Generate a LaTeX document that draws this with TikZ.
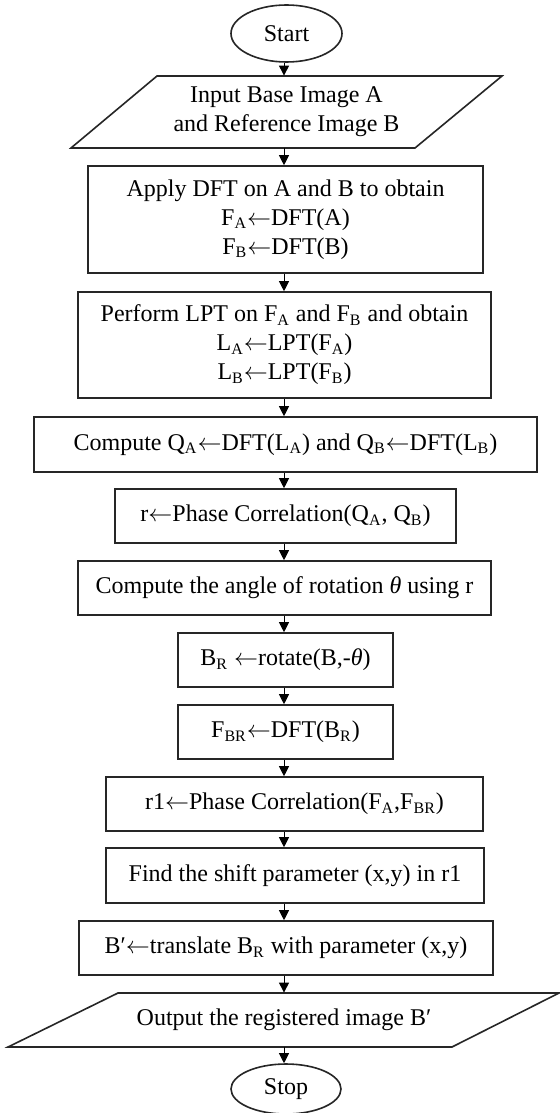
\documentclass[tikz,border=0pt]{standalone}
\usepackage{fontspec}
\setmainfont{Liberation Serif}
\usetikzlibrary{arrows.meta,shapes.geometric}
\newcommand{\sbs}[1]{\textsubscript{#1}}
\newcommand{\larr}{\ensuremath{\leftarrow}}
\begin{document}
\begin{tikzpicture}[x=0.5pt,y=-0.5pt,
  lbl/.style={align=center,inner sep=0pt,font=\fontsize{12}{14.5}\selectfont},
  box/.style={lbl,draw=black!85,line width=0.8pt,fill=white},
  term/.style={lbl,ellipse,draw=black!85,line width=0.8pt,fill=white},
  io/.style={draw=black!85,line width=0.8pt,fill=white,line join=miter},
  flow/.style={draw=black,line width=0.5pt,-{Triangle[length=5pt,width=5pt]}}]

% page
\fill[white] (0,0) rectangle (560,1113);
\useasboundingbox (0,0) rectangle (560,1113);

% common vertical axis of the connectors
\coordinate (axis) at (284,0);

% terminals, steps and input/output
\node[term,minimum width=55.5pt,minimum height=28.5pt] (start) at (286.5,33.5) {Start};

\draw[io] (157,76) -- (502,76) -- (415,148) -- (71,148) -- cycle;
\node[lbl,minimum height=36pt] (inp) at (286.5,112) {Input Base Image A\\and Reference Image B};

\node[box,minimum width=197.5pt,minimum height=53.5pt] (dft) at (285.5,219.5)
  {Apply DFT on A and B to obtain\\F\sbs{A}\larr DFT(A)\\F\sbs{B}\larr DFT(B)};

\node[box,minimum width=206.5pt,minimum height=53pt] (lpt) at (284.5,345)
  {Perform LPT on F\sbs{A} and F\sbs{B} and obtain\\L\sbs{A}\larr LPT(F\sbs{A})\\L\sbs{B}\larr LPT(F\sbs{B})};

\node[box,minimum width=251.5pt,minimum height=27.5pt] (cq) at (285.5,444.5)
  {Compute Q\sbs{A}\larr DFT(L\sbs{A}) and Q\sbs{B}\larr DFT(L\sbs{B})};

\node[box,minimum width=170.5pt,minimum height=27pt] (pc) at (285.5,516)
  {r\larr Phase Correlation(Q\sbs{A}, Q\sbs{B})};

\node[box,minimum width=206.5pt,minimum height=27pt] (ang) at (284.5,588)
  {Compute the angle of rotation \textit{θ} using r};

\node[box,minimum width=107.5pt,minimum height=27pt] (rot) at (285.5,660)
  {B\sbs{R} \larr rotate(B,-\textit{θ})};

\node[box,minimum width=107.5pt,minimum height=27pt] (fbr) at (285.5,732)
  {F\sbs{BR}\larr DFT(B\sbs{R})};

\node[box,minimum width=188.5pt,minimum height=27pt] (rone) at (294.5,804)
  {r1\larr Phase Correlation(F\sbs{A},F\sbs{BR})};

\node[box,minimum width=189pt,minimum height=27.5pt] (shift) at (295,875.5)
  {Find the shift parameter (x,y) in r1};

\node[box,minimum width=207pt,minimum height=27pt] (trans) at (286,948)
  {B′\larr translate B\sbs{R} with parameter (x,y)};

\draw[io] (118,993) -- (559,993) -- (452,1047) -- (8,1047) -- cycle;
\node[lbl,minimum height=27pt] (out) at (284,1020) {Output the registered image B′};

\node[term,minimum width=55pt,minimum height=25pt] (stop) at (286,1089) {Stop};

% connectors
\foreach \a/\b in {start/inp,inp/dft,dft/lpt,lpt/cq,cq/pc,pc/ang,ang/rot,rot/fbr,
                   fbr/rone,rone/shift,shift/trans,trans/out,out/stop}
  \draw[flow] (\a.south -| axis) -- (\b.north -| axis);
\end{tikzpicture}
\end{document}
